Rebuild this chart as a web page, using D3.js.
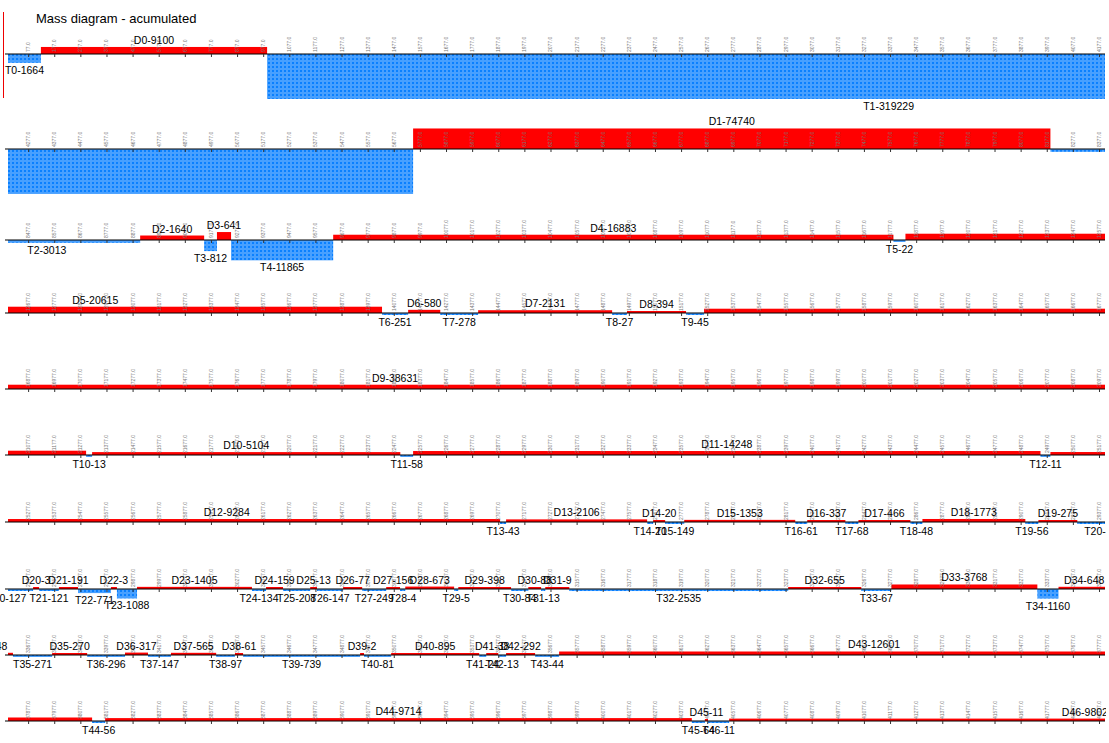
<!DOCTYPE html>
<html><head><meta charset="utf-8">
<script src="https://cdn.jsdelivr.net/npm/d3@7"></script>
<style>body{margin:0;background:#fff}svg{font-family:"Liberation Sans",Arial,sans-serif}</style>
</head><body><svg id="c" width="1109" height="743"></svg>
<script>
const title = "Mass diagram - acumulated";
const segNames = ["T0","D0","T1","D1","T2","D2","T3","D3","T4","D4","T5","D5","T6","D6","T7","D7","T8","D8","T9","D9",
"T10","D10","T11","D11","T12","D12","T13","D13","T14","D14","T15","D15","T16","D16","T17","D17","T18","D18","T19","D19",
"T20","D20","T21","D21","T22","D22","T23","D23","T24","D24","T25","D25","T26","D26","T27","D27","T28","D28","T29","D29",
"T30","D30","T31","D31","T32","D32","T33","D33","T34","D34","T35","D35","T36","D36","T37","D37","T38","D38","T39","D39",
"T40","D40","T41","D41","T42","D42","T43","D43","T44","D44","T45","D45","T46","D46"];
const segStart = [0,126,992,5751,8191,8906,9151,9200,9254,9645,11790,11836,14032,14132,14255,14400,14913,14970,15196,15265,
21299,21322,22502,22551,24953,24991,27084,27107,27647,27670,27716,27789,28214,28260,28406,28456,28655,28701,29095,29145,
29294,29496,29519,29595,29668,29794,29817,29894,30334,30388,30453,30557,30583,30683,30756,30848,30901,30921,31108,31124,
31326,31392,31441,31457,31549,32387,32667,32782,33341,33422,33619,33769,33903,34048,34136,34224,34397,34469,34500,34948,
34963,35067,35404,35431,35477,35507,35618,35710,38122,38172,40418,40468,40480,40561];
const segValue = [1664,9100,319229,74740,3013,1640,812,641,11865,16883,22,20615,251,580,278,2131,27,394,45,38631,
13,5104,58,14248,11,9284,43,2106,20,20,149,1353,61,337,68,466,48,1773,56,275,
127,3,121,191,771,3,1088,1405,134,159,208,13,147,77,249,156,4,673,5,398,
84,88,13,9,2535,655,67,3768,1160,648,271,270,296,317,147,565,97,61,739,2,
81,895,24,38,13,292,44,12601,56,9714,64,11,11,9802];
const endStation = 43285;
const rowLength = 4200;
const tickStep = 100, tickOffset = 77;

const rowAxisY = [54,149,240,313,389,455,522,589,655,721];
const segs = segNames.map((n,i)=>({name:n, type:n[0], s:segStart[i], e: i<segNames.length-1?segStart[i+1]:endStation, v:segValue[i]}));

const svg = d3.select("#c");
const defs = svg.append("defs");
const pat = defs.append("pattern").attr("id","hatch").attr("patternUnits","userSpaceOnUse").attr("width",4).attr("height",4);
pat.append("rect").attr("width",4).attr("height",4).attr("fill","#0a80ff");
[[0,0],[2,2],[2,0]].forEach(([a,b])=>pat.append("rect").attr("x",a+0.5).attr("y",b+0.5).attr("width",1).attr("height",1).attr("fill","#fff"));
defs.append("clipPath").attr("id","clip").append("rect").attr("x",0).attr("y",0).attr("width",1106).attr("height",743);

svg.append("text").attr("x",36).attr("y",23).attr("font-size",13).text(title);

const hScale = d3.scaleLinear().domain([0,1]).range([0,0.67]);
const root = svg.append("g").attr("clip-path","url(#clip)");

rowAxisY.forEach((ay,r)=>{
  const base = r*rowLength;
  const x = d3.scaleLinear().domain([base, base+rowLength]).range([8,1105]);
  const g = root.append("g");
  const rowSegs = segs.filter(d=>d.e>base && d.s<base+rowLength);
  rowSegs.forEach(d=>{
    const h = Math.max(2, hScale(d.v/(d.e-d.s)));
    const x0 = x(Math.max(d.s,base)), x1 = x(Math.min(d.e, base+rowLength));
    g.append("rect").attr("x",x0).attr("width",Math.max(0,x1-x0))
      .attr("y", d.type==="D"? ay-h : ay).attr("height",h)
      .attr("fill", d.type==="D" ? "#ff0000" : "url(#hatch)");
  });
  g.append("line").attr("x1",5).attr("x2",1105).attr("y1",ay).attr("y2",ay).attr("stroke","#000").attr("stroke-width",1.2);
  const ticks = d3.range(base+tickOffset, base+rowLength, tickStep);
  const axis = d3.axisBottom(x).tickValues(ticks).tickSize(3).tickFormat("");
  const ag = g.append("g").attr("transform",`translate(0,${ay})`).call(axis);
  ag.select(".domain").remove();
  ag.selectAll("line").attr("stroke","#333");
  ticks.forEach(t=>{
    g.append("text").attr("transform",`translate(${x(t)+2},${ay-2}) rotate(-90)`)
      .attr("font-size",5).attr("fill","#777").text(t.toFixed(1));
  });
  // labels: placed at the segment's centre station, drawn in every row where it falls near the row
  segs.forEach(d=>{
    const c=(d.s+d.e)/2;
    const xc = x(c);
    if(xc < -45 || xc > 1150) return;
    if(!(d.e>base-400 && d.s<base+rowLength+400)) return;
    const h = Math.max(2, hScale(d.v/(d.e-d.s)));
    g.append("text").attr("x",xc).attr("text-anchor","middle").attr("font-size",10.5)
      .attr("y", d.type==="D" ? ay-h-3 : ay+h+11).attr("fill","#000").text(d.name+"-"+d.v);
  });
});
svg.append("line").attr("x1",3.5).attr("x2",3.5).attr("y1",12).attr("y2",98).attr("stroke","#e00").attr("stroke-width",1);
</script></body></html>
